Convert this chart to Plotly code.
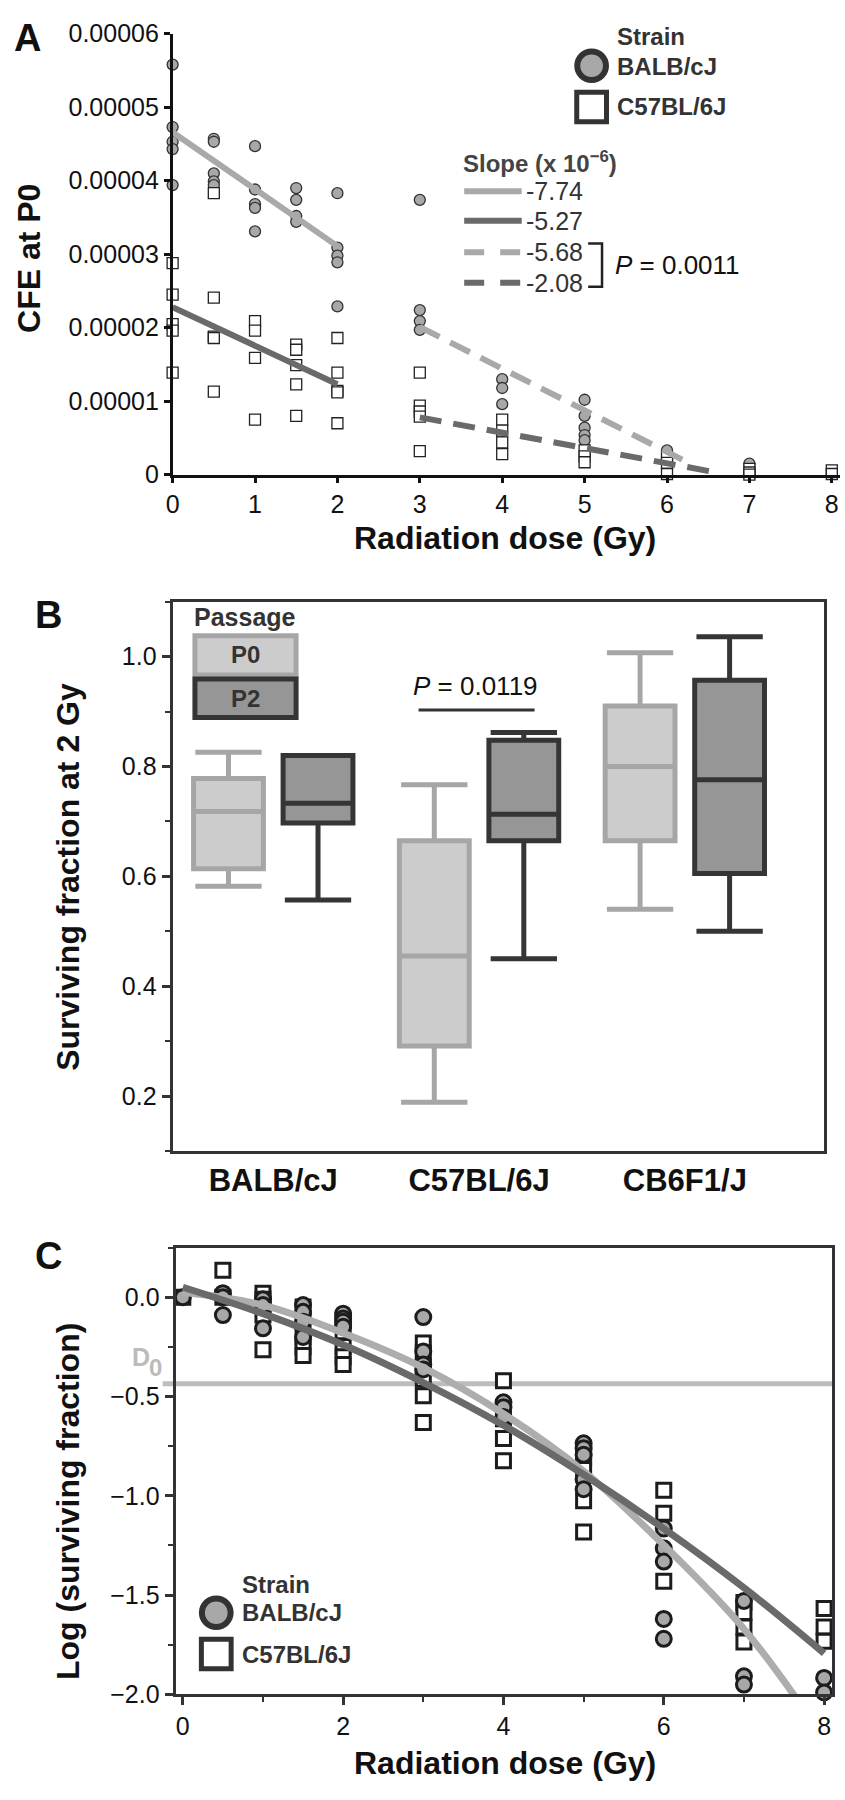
import numpy as np
import plotly.graph_objects as go

W, H = 845, 1800
FONT = "Liberation Sans, Arial, Helvetica, sans-serif"

# ---------------- Panel A data (CFE at P0, units of 1e-5) ----------------
CFE_UNIT = 1e-5
balb_A_dose = [0, 0, 0, 0, 0, 0.5, 0.5, 0.5, 0.5, 0.5, 1, 1, 1, 1, 1,
               1.5, 1.5, 1.5, 1.5, 2, 2, 2, 2, 2, 3, 3, 3, 3, 4, 4, 4,
               5, 5, 5, 5, 5, 6, 7]
balb_A_cfe = [5.58, 4.73, 4.53, 4.43, 3.94, 4.57, 4.53, 4.10, 3.99, 3.94,
              4.47, 3.88, 3.68, 3.63, 3.31, 3.90, 3.74, 3.52, 3.44,
              3.83, 3.09, 2.98, 2.89, 2.29, 3.74, 2.24, 2.09, 1.97,
              1.30, 1.18, 0.96, 1.02, 0.80, 0.64, 0.54, 0.47, 0.33, 0.15]
c57_A_dose = [0, 0, 0, 0, 0, 0.5, 0.5, 0.5, 0.5, 0.5, 1, 1, 1, 1,
              1.5, 1.5, 1.5, 1.5, 1.5, 2, 2, 2, 2, 2, 3, 3, 3, 3, 3,
              4, 4, 4, 4, 5, 5, 5, 6, 6, 6, 7, 7, 7, 8, 8]
c57_A_cfe = [2.88, 2.45, 2.05, 1.96, 1.39, 3.83, 2.41, 1.88, 1.86, 1.13,
             2.09, 1.96, 1.59, 0.75, 1.77, 1.70, 1.49, 1.23, 0.80,
             1.86, 1.39, 1.14, 1.12, 0.70, 1.39, 0.94, 0.86, 0.79, 0.32,
             0.75, 0.60, 0.44, 0.28, 0.33, 0.25, 0.17, 0.24, 0.16, 0.01,
             0.08, 0.03, 0.0, 0.06, 0.01]
# fitted regression lines (end points)
fit_low_dose = [0, 2]
balb_fit_low = [4.66, 3.11]
c57_fit_low = [2.28, 1.23]
balb_fit_high_dose = [3, 6.3]
balb_fit_high = [2.01, 0.14]
c57_fit_high_dose = [3, 6.65]
c57_fit_high = [0.78, 0.02]
slope_labels = ["-7.74", "-5.27", "-5.68", "-2.08"]
A_ytick_vals = [0, 1, 2, 3, 4, 5, 6]
A_ytick_text = ["0", "0.00001", "0.00002", "0.00003", "0.00004", "0.00005", "0.00006"]
A_xtick_vals = [0, 1, 2, 3, 4, 5, 6, 7, 8]

# ---------------- Panel B data (surviving fraction at 2 Gy) ----------------
strains = ["BALB/cJ", "C57BL/6J", "CB6F1/J"]
p0_low = [0.582, 0.189, 0.540]
p0_q1 = [0.614, 0.291, 0.665]
p0_med = [0.718, 0.455, 0.800]
p0_q3 = [0.778, 0.665, 0.910]
p0_high = [0.826, 0.767, 1.007]
p2_low = [0.557, 0.450, 0.500]
p2_q1 = [0.697, 0.665, 0.605]
p2_med = [0.733, 0.713, 0.776]
p2_q3 = [0.820, 0.848, 0.957]
p2_high = [0.820, 0.862, 1.036]
B_ytick_vals = [0.2, 0.4, 0.6, 0.8, 1.0]
B_ytick_text = ["0.2", "0.4", "0.6", "0.8", "1.0"]
B_yminor_vals = [0.1, 0.3, 0.5, 0.7, 0.9, 1.1]

# ---------------- Panel C data (log surviving fraction) ----------------
balb_C_dose = [0, 0.5, 0.5, 0.5, 1, 1, 1, 1.5, 1.5, 1.5, 1.5, 2, 2, 2, 2,
               3, 3, 3, 3, 4, 4, 4, 5, 5, 5, 5, 5, 6, 6, 6, 6, 6,
               7, 7, 7, 8, 8]
balb_C_logsf = [0.0, 0.02, 0.0, -0.09, -0.01, -0.04, -0.157,
                -0.04, -0.074, -0.124, -0.2, -0.083, -0.107, -0.124, -0.149,
                -0.1, -0.273, -0.339, -0.364, -0.529, -0.554, -0.603,
                -0.736, -0.76, -0.793, -0.917, -0.967,
                -1.165, -1.264, -1.331, -1.62, -1.72,
                -1.529, -1.909, -1.95, -1.917, -1.99]
c57_C_dose = [0, 0.5, 0.5, 1, 1, 1, 1, 1, 1.5, 1.5, 1.5, 1.5, 1.5,
              2, 2, 2, 2, 2, 3, 3, 3, 3, 3, 3, 4, 4, 4, 4,
              5, 5, 5, 5, 5, 6, 6, 6, 7, 7, 7, 7, 8, 8, 8]
c57_C_logsf = [0.0, 0.135, 0.0, 0.02, -0.01, -0.04, -0.09, -0.265,
               -0.05, -0.124, -0.2, -0.25, -0.294,
               -0.116, -0.174, -0.248, -0.3, -0.339,
               -0.231, -0.281, -0.347, -0.413, -0.496, -0.631,
               -0.421, -0.612, -0.711, -0.823,
               -0.777, -0.81, -0.868, -1.025, -1.182,
               -0.972, -1.088, -1.43,
               -1.537, -1.587, -1.661, -1.736,
               -1.567, -1.661, -1.732]
curve_dose = [0, 1, 2, 3, 4, 5, 6, 7, 8]
curve_light = [0.025, -0.04, -0.18, -0.355, -0.587, -0.876, -1.248, -1.67, -2.22]
curve_dark = [0.05, -0.083, -0.24, -0.43, -0.645, -0.893, -1.165, -1.463, -1.793]
D0_level = -0.436
C_ytick_vals = [0.0, -0.5, -1.0, -1.5, -2.0]
C_ytick_text = ["0.0", "\u22120.5", "\u22121.0", "\u22121.5", "\u22122.0"]
C_yminor_vals = [0.25, -0.25, -0.75, -1.25, -1.75]
C_xtick_vals = [0, 2, 4, 6, 8]
C_xminor_vals = [1, 3, 5, 7]

# ---------------- styling ----------------
LIGHT = "#a9a9a9"
DARK = "#6a6a6a"
GRAY_FILL = "#a8a8a8"
P0_FILL, P0_LINE = "#cccccc", "#a6a6a6"
P2_FILL, P2_LINE = "#969696", "#353535"
FRAME = "#333333"


def fx(px):
    return px / W


def fy(py):
    return 1 - py / H


fig = go.Figure()

# ---- Panel A ----
fig.add_trace(go.Scatter(x=balb_A_dose, y=np.array(balb_A_cfe) * CFE_UNIT, mode="markers",
                         marker=dict(symbol="circle", size=11, color=GRAY_FILL,
                                     line=dict(color="#333333", width=1.3)),
                         cliponaxis=False, xaxis="x", yaxis="y", showlegend=False))
fig.add_trace(go.Scatter(x=c57_A_dose, y=np.array(c57_A_cfe) * CFE_UNIT, mode="markers",
                         marker=dict(symbol="square", size=11, color="white",
                                     line=dict(color="#222222", width=1.3)),
                         cliponaxis=False, xaxis="x", yaxis="y", showlegend=False))
fig.add_trace(go.Scatter(x=fit_low_dose, y=np.array(balb_fit_low) * CFE_UNIT, mode="lines",
                         line=dict(color=LIGHT, width=6), xaxis="x", yaxis="y", showlegend=False))
fig.add_trace(go.Scatter(x=fit_low_dose, y=np.array(c57_fit_low) * CFE_UNIT, mode="lines",
                         line=dict(color=DARK, width=6), xaxis="x", yaxis="y", showlegend=False))
fig.add_trace(go.Scatter(x=balb_fit_high_dose, y=np.array(balb_fit_high) * CFE_UNIT, mode="lines",
                         line=dict(color=LIGHT, width=6, dash="22px,12px"),
                         xaxis="x", yaxis="y", showlegend=False))
fig.add_trace(go.Scatter(x=c57_fit_high_dose, y=np.array(c57_fit_high) * CFE_UNIT, mode="lines",
                         line=dict(color=DARK, width=6, dash="22px,12px"),
                         xaxis="x", yaxis="y", showlegend=False))

# ---- Panel B ----
fig.add_trace(go.Box(x=strains, q1=p0_q1, median=p0_med, q3=p0_q3,
                     lowerfence=p0_low, upperfence=p0_high, name="P0",
                     fillcolor=P0_FILL, line=dict(color=P0_LINE, width=5),
                     whiskerwidth=0.95, boxpoints=False,
                     xaxis="x2", yaxis="y2", showlegend=False))
fig.add_trace(go.Box(x=strains, q1=p2_q1, median=p2_med, q3=p2_q3,
                     lowerfence=p2_low, upperfence=p2_high, name="P2",
                     fillcolor=P2_FILL, line=dict(color=P2_LINE, width=5),
                     whiskerwidth=0.95, boxpoints=False,
                     xaxis="x2", yaxis="y2", showlegend=False))

# ---- Panel C ----
fig.add_trace(go.Scatter(x=c57_C_dose, y=c57_C_logsf, mode="markers",
                         marker=dict(symbol="square", size=14, color="white",
                                     line=dict(color="#1c1c1c", width=3)),
                         cliponaxis=False, xaxis="x3", yaxis="y3", showlegend=False))
fig.add_trace(go.Scatter(x=balb_C_dose, y=balb_C_logsf, mode="markers",
                         marker=dict(symbol="circle", size=15, color=GRAY_FILL,
                                     line=dict(color="#1c1c1c", width=3)),
                         cliponaxis=False, xaxis="x3", yaxis="y3", showlegend=False))
fig.add_trace(go.Scatter(x=curve_dose, y=curve_light, mode="lines",
                         line=dict(color="#adadad", width=7, shape="spline"),
                         xaxis="x3", yaxis="y3", showlegend=False))
fig.add_trace(go.Scatter(x=curve_dose, y=curve_dark, mode="lines",
                         line=dict(color=DARK, width=7, shape="spline"),
                         xaxis="x3", yaxis="y3", showlegend=False))

tickfont = dict(family=FONT, size=25, color="#111111")

fig.update_layout(
    width=W, height=H, margin=dict(l=0, r=0, t=0, b=0),
    paper_bgcolor="white", plot_bgcolor="white",
    font=dict(family=FONT, color="#111111"),
    hovermode=False,
    boxmode="group", boxgap=0.13, boxgroupgap=0.22,
    xaxis=dict(domain=[fx(167), fx(840)], range=[0, 8.1], anchor="y",
               tickvals=A_xtick_vals, ticks="outside", ticklen=6, tickwidth=2.5,
               tickcolor="#111111", showline=True, linecolor="#111111", linewidth=2.5,
               showgrid=False, zeroline=False, tickfont=tickfont),
    yaxis=dict(domain=[fy(468), fy(20)], range=[0, 6e-5], anchor="x",
               tickvals=np.array(A_ytick_vals) * CFE_UNIT, ticktext=A_ytick_text,
               ticks="outside", ticklen=6, tickwidth=2.5, tickcolor="#111111",
               showline=True, linecolor="#111111", linewidth=2.5,
               showgrid=False, zeroline=False, tickfont=tickfont),
    xaxis2=dict(domain=[fx(167), fx(824)], range=[-0.489, 2.677], anchor="y2",
                type="category", ticks="", showline=True, mirror=True,
                linecolor=FRAME, linewidth=3, showgrid=False, zeroline=False,
                tickfont=dict(family=FONT, size=31, color="#111111", weight="bold")),
    yaxis2=dict(domain=[fy(1155), fy(597)], range=[0.1, 1.1], anchor="x2",
                tickvals=B_ytick_vals, ticktext=B_ytick_text, ticks="outside",
                ticklen=8, tickwidth=2.5, tickcolor=FRAME,
                minor=dict(tickvals=B_yminor_vals, ticks="outside", ticklen=5,
                           tickwidth=2, tickcolor=FRAME),
                showline=True, mirror=True, linecolor=FRAME, linewidth=3,
                showgrid=False, zeroline=False, tickfont=tickfont),
    xaxis3=dict(domain=[fx(170), fx(832)], range=[-0.09, 8.1], anchor="y3",
                tickvals=C_xtick_vals, ticks="outside", ticklen=8, tickwidth=2.5,
                tickcolor=FRAME,
                minor=dict(tickvals=C_xminor_vals, ticks="outside", ticklen=5,
                           tickwidth=2, tickcolor=FRAME),
                showline=True, mirror=True, linecolor=FRAME, linewidth=3,
                showgrid=False, zeroline=False, tickfont=tickfont),
    yaxis3=dict(domain=[fy(1707), fy(1253)], range=[-2.0, 0.25], anchor="x3",
                tickvals=C_ytick_vals, ticktext=C_ytick_text, ticks="outside",
                ticklen=8, tickwidth=2.5, tickcolor=FRAME,
                minor=dict(tickvals=C_yminor_vals, ticks="outside", ticklen=5,
                           tickwidth=2, tickcolor=FRAME),
                showline=True, mirror=True, linecolor=FRAME, linewidth=3,
                showgrid=False, zeroline=False, tickfont=tickfont),
)

ann = []


def text(px, py, s, size=24, color="#111111", bold=False, xanchor="left",
         yanchor="middle", angle=0):
    ann.append(dict(x=fx(px), y=fy(py), xref="paper", yref="paper", text=s,
                    showarrow=False, xanchor=xanchor, yanchor=yanchor,
                    textangle=angle,
                    font=dict(family=FONT, size=size, color=color,
                              weight="bold" if bold else "normal")))


# panel letters
text(21, 24, "A", size=38, bold=True, xanchor="center")
text(42, 610, "B", size=38, bold=True, xanchor="center")
text(42, 1262, "C", size=38, bold=True, xanchor="center")

# axis titles
text(22, 248, "CFE at P0", size=32, bold=True, xanchor="center", angle=-90)
text(502, 532, "Radiation dose (Gy)", size=32, bold=True, xanchor="center")
text(62, 876, "Surviving fraction at 2 Gy", size=32, bold=True, xanchor="center", angle=-90)
text(62, 1511, "Log (surviving fraction)", size=32, bold=True, xanchor="center", angle=-90)
text(502, 1777, "Radiation dose (Gy)", size=32, bold=True, xanchor="center")

# Panel A legends
text(613, 23, "Strain", size=24, color="#333333", bold=True)
text(613, 53, "BALB/cJ", size=24, color="#333333", bold=True)
text(613, 94, "C57BL/6J", size=24, color="#333333", bold=True)
text(458, 150, "Slope (x 10<sup>\u22126</sup>)", size=24, color="#444444", bold=True)
legend_rows = [180, 210, 242, 273]
for lbl, py in zip(slope_labels, legend_rows):
    text(521, py, lbl, size=25, color="#333333")
text(611, 255, "<i>P</i> = 0.0011", size=26)

# Panel B legend and p-value
text(240, 613, "Passage", size=25, color="#333333", bold=True, xanchor="center")
text(240, 651, "P0", size=24, color="#333333", bold=True, xanchor="center")
text(240, 695, "P2", size=24, color="#333333", bold=True, xanchor="center")
text(472, 683, "<i>P</i> = 0.0119", size=26, xanchor="center")

# Panel C legend and D0
text(235, 1595, "Strain", size=24, color="#333333", bold=True)
text(235, 1624, "BALB/cJ", size=24, color="#333333", bold=True)
text(235, 1666, "C57BL/6J", size=24, color="#333333", bold=True)
text(135, 1364, "D", size=25, color="#bbbbbb", bold=True, xanchor="center")
text(150, 1375, "0", size=24, color="#bbbbbb", bold=True, xanchor="center")

shapes = []


def pshape(kind, x0, y0, x1, y1, **kw):
    shapes.append(dict(type=kind, xref="paper", yref="paper",
                       x0=fx(x0), x1=fx(x1), y0=fy(y0), y1=fy(y1), **kw))


# Panel A strain legend symbols
pshape("circle", 575, 38, 604, 67, fillcolor=GRAY_FILL, line=dict(color="#333333", width=6))
pshape("rect", 574.5, 79.5, 604.5, 109.5, fillcolor="white", line=dict(color="#333333", width=5))
# slope legend lines
pshape("line", 461, 180, 519, 180, line=dict(color=LIGHT, width=6))
pshape("line", 461, 210, 519, 210, line=dict(color=DARK, width=6))
pshape("line", 461, 242, 519, 242, line=dict(color=LIGHT, width=6, dash="20px,16px"))
pshape("line", 461, 273, 519, 273, line=dict(color=DARK, width=6, dash="20px,16px"))
# bracket
shapes.append(dict(type="path", xref="paper", yref="paper",
                   path=f"M {fx(586)},{fy(233)} L {fx(600)},{fy(233)} L {fx(600)},{fy(277)} L {fx(586)},{fy(277)}",
                   line=dict(color="#222222", width=2.5)))

# Panel B passage legend boxes
pshape("rect", 189.5, 631.5, 291.5, 671.5, fillcolor=P0_FILL, line=dict(color=P0_LINE, width=5))
pshape("rect", 189.5, 675.5, 291.5, 714.5, fillcolor=P2_FILL, line=dict(color=P2_LINE, width=5))
# p-value bar
pshape("line", 415, 707, 532, 707, line=dict(color="#333333", width=3))

# Panel C legend symbols
pshape("circle", 196.5, 1609.5, 225.5, 1638.5, fillcolor=GRAY_FILL, line=dict(color="#333333", width=6))
pshape("rect", 196, 1651, 226, 1681, fillcolor="white", line=dict(color="#333333", width=5))
# D0 reference line
shapes.append(dict(type="line", xref="paper", yref="y3", x0=fx(157), x1=fx(832),
                   y0=D0_level, y1=D0_level, line=dict(color="#bdbdbd", width=5),
                   layer="below"))

fig.update_layout(annotations=ann, shapes=shapes)
fig.write_html("out.html", config={"displayModeBar": False},
               post_script="document.body.style.margin='0px';document.body.style.overflow='hidden';")
